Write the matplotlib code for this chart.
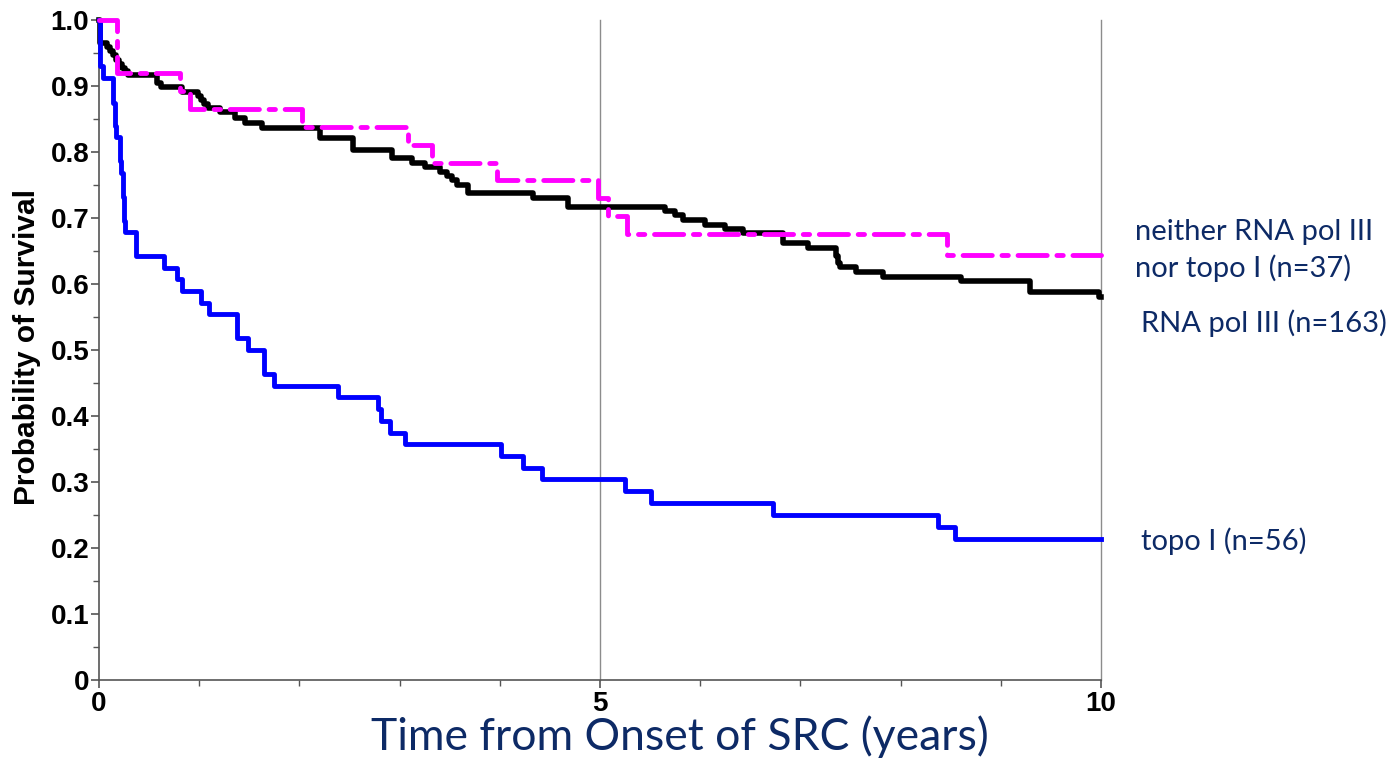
import matplotlib
matplotlib.use("Agg")
import matplotlib.pyplot as plt
from matplotlib.ticker import MultipleLocator, FixedLocator

# topo I (n=56)
topo_t = [0, 0.005, 0.04, 0.14, 0.16, 0.17, 0.21, 0.22, 0.24, 0.25, 0.255, 0.37, 0.65, 0.78,
          0.83, 1.02, 1.10, 1.38, 1.49, 1.65, 1.75, 2.39, 2.78, 2.81, 2.90, 3.05, 4.01,
          4.23, 4.42, 5.25, 5.51, 6.73, 8.37, 8.54, 10.0]
topo_s = [1.0, 0.93, 0.912, 0.875, 0.84, 0.823, 0.786, 0.768, 0.732, 0.696, 0.679, 0.643,
          0.625, 0.607, 0.589, 0.571, 0.554, 0.518, 0.500, 0.464, 0.446, 0.429, 0.411,
          0.393, 0.375, 0.357, 0.339, 0.321, 0.304, 0.286, 0.268, 0.25, 0.232, 0.214, 0.214]

# neither RNA pol III nor topo I (n=37)
neither_t = [0, 0.18, 0.81, 0.91, 2.03, 3.08, 3.32, 3.97, 4.98, 5.08, 5.27, 8.46, 10.0]
neither_s = [1.0, 0.919, 0.892, 0.865, 0.838, 0.811, 0.784, 0.757, 0.730, 0.703, 0.676,
             0.644, 0.644]

# RNA pol III (n=163)
rna_t = [0, 0.005, 0.01, 0.08, 0.11, 0.14, 0.17, 0.20, 0.23, 0.26, 0.29, 0.58, 0.62, 0.83,
         0.99, 1.02, 1.05, 1.09, 1.21, 1.36, 1.46, 1.63, 2.21, 2.53, 2.92, 3.12, 3.25,
         3.40, 3.47, 3.52, 3.57, 3.68, 4.33, 4.68, 5.65, 5.75, 5.83, 6.05, 6.25, 6.43,
         6.83, 7.08, 7.36, 7.38, 7.40, 7.55, 7.82, 8.60, 9.29, 9.98, 10.0]
rna_s = [1.0, 0.982, 0.965, 0.959, 0.953, 0.947, 0.940, 0.934, 0.928, 0.922, 0.916, 0.904,
         0.898, 0.891, 0.885, 0.879, 0.873, 0.866, 0.860, 0.852, 0.844, 0.836, 0.821,
         0.803, 0.791, 0.783, 0.777, 0.770, 0.763, 0.757, 0.750, 0.738, 0.730, 0.717,
         0.711, 0.705, 0.697, 0.689, 0.683, 0.677, 0.662, 0.655, 0.643, 0.632, 0.626,
         0.618, 0.611, 0.605, 0.588, 0.580, 0.580]

labels = ["neither RNA pol III\nnor topo I (n=37)", "RNA pol III (n=163)", "topo I (n=56)"]
label_y = [0.651, 0.540, 0.211]
label_x = [10.34, 10.40, 10.40]

y_ticks = [0, 0.1, 0.2, 0.3, 0.4, 0.5, 0.6, 0.7, 0.8, 0.9, 1.0]
y_ticklabels = ["0", "0.1", "0.2", "0.3", "0.4", "0.5", "0.6", "0.7", "0.8", "0.9", "1.0"]
x_ticks = [0, 5, 10]

navy = "#0d2a66"

fig = plt.figure(figsize=(13.89, 7.70), dpi=100)
ax = fig.add_axes([99/1389, 1 - 680/770, (1101-99)/1389, (680-20)/770])

ax.step(rna_t, rna_s, where="post", color="black", lw=4.0, clip_on=False, zorder=3)
ax.step(topo_t, topo_s, where="post", color="#0000ff", lw=3.5, clip_on=False, zorder=4)
ln, = ax.step(neither_t, neither_s, where="post", color="#ff00ff", lw=3.5, clip_on=False,
              zorder=5, dashes=(6.0, 2.0, 1.3, 2.0))
ln.set_dash_capstyle("round")

ax.set_xlim(0, 10)
ax.set_ylim(0, 1)
for xv in [5, 10]:
    ax.axvline(xv, color="#8c8c8c", lw=1.0, zorder=1, clip_on=False)

for s in ["top", "right"]:
    ax.spines[s].set_visible(False)
for s in ["left", "bottom"]:
    ax.spines[s].set_color("#555555")
    ax.spines[s].set_linewidth(1.2)

ax.yaxis.set_major_locator(FixedLocator(y_ticks))
ax.set_yticklabels(y_ticklabels)
ax.yaxis.set_minor_locator(MultipleLocator(0.05))
ax.xaxis.set_major_locator(FixedLocator(x_ticks))
ax.xaxis.set_minor_locator(MultipleLocator(1))

for lab in ax.get_yticklabels() + ax.get_xticklabels():
    lab.set_fontfamily(["Liberation Sans Narrow", "Liberation Sans", "DejaVu Sans"])
    lab.set_fontweight("bold")
    lab.set_fontsize(20)

ax.tick_params(axis="both", which="major", length=6, width=1.2, color="#555555", pad=1)
ax.tick_params(axis="both", which="minor", length=4, width=1.0, color="#555555")
ax.tick_params(axis="x", which="major", pad=2)

ax.set_ylabel("Probability of Survival", fontsize=21.5, fontweight="bold",
              family=["Liberation Sans", "DejaVu Sans"])
ax.yaxis.set_label_coords(-0.058, 0.505)
ax.set_xlabel("Time from Onset of SRC (years)", fontsize=32, color=navy,
              family=["Lato", "DejaVu Sans"])
ax.xaxis.set_label_coords(0.58, -0.053)
ax.xaxis.label.set_va("top")

for lab, yv, xv in zip(labels, label_y, label_x):
    ax.text(xv, yv, lab, fontsize=21, color=navy, family=["Lato", "DejaVu Sans"],
            va="center", ha="left", linespacing=1.4, clip_on=False)

fig.savefig("out.png", dpi=100)
